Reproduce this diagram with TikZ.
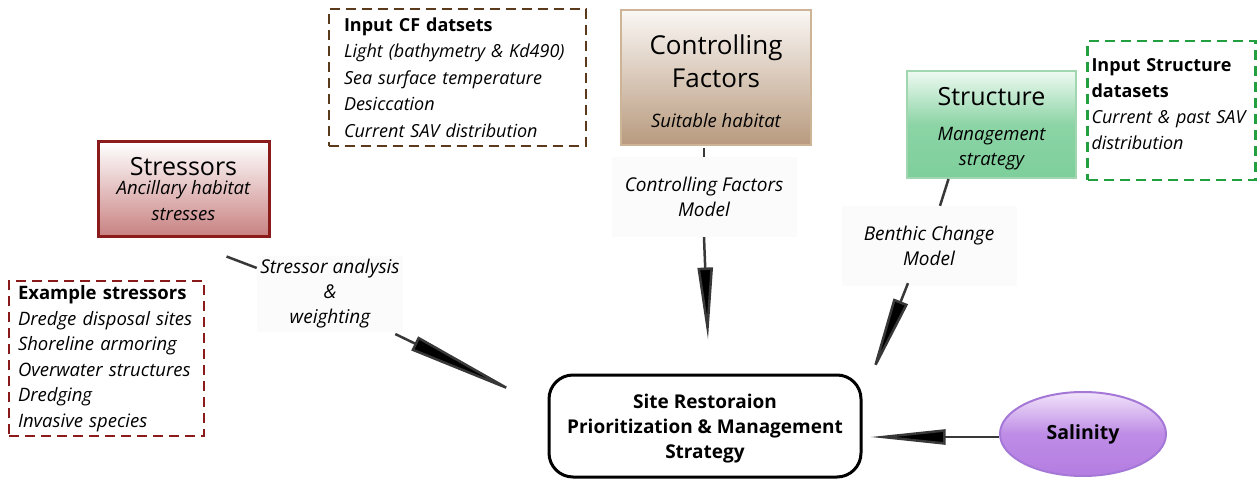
\documentclass[tikz,border=0pt]{standalone}
\usepackage{fontspec}
\setmainfont{Open Sans}
\usetikzlibrary{arrows.meta,calc,shapes.geometric}
\definecolor{sred}{HTML}{8B1A1A}
\definecolor{sbrown}{HTML}{5A3A1A}
\definecolor{sgreen}{HTML}{22A040}
\definecolor{conncol}{HTML}{383838}
\tikzset{
  dashbox/.style={draw, line width=2.5pt, dash pattern=on 10pt off 6pt, align=left, anchor=center, font=\fontsize{18.5}{25.5}\selectfont},
  modelbox/.style={align=center, anchor=center},
  lblbox/.style={fill=gray!3, align=center, font=\fontsize{19}{25}\selectfont\itshape},
  conn/.style={draw=conncol, line width=2.5pt},
  wedge/.style={draw=conncol, line width=2.5pt, -{Triangle[length=#1, width=15pt, fill=black]}},
}
\begin{document}
\begin{tikzpicture}[x=1pt,y=-1pt]
\useasboundingbox (0,0) rectangle (1259,481);
% Stressors
\node[modelbox, draw=sred, line width=3pt, top color=white, bottom color={rgb,255:red,200;green,128;blue,128}, minimum width=171pt, minimum height=95pt, font=\fontsize{18.5}{26}\selectfont\itshape] (stress) at (183.5,189.5)
  {{\fontsize{25}{26}\selectfont\upshape Stressors}\\[-7pt] Ancillary habitat\\ stresses};
% Example stressors
\node[dashbox, draw=sred, minimum width=195pt, minimum height=155pt, text width=177pt, inner xsep=9pt] (ex) at (106.5,358.5)
  {\textbf{Example stressors}\\ \textit{Dredge disposal sites}\\ \textit{Shoreline armoring}\\ \textit{Overwater structures}\\ \textit{Dredging}\\ \textit{Invasive species}};
% Input CF datasets
\node[dashbox, draw=sbrown, minimum width=257pt, minimum height=137pt, text width=227pt, inner xsep=15pt, font=\fontsize{18}{26.5}\selectfont] (cfin) at (457.5,77.5)
  {\textbf{Input CF datsets}\\ \textit{Light (bathymetry \& Kd490)}\\ \textit{Sea surface temperature}\\ \textit{Desiccation}\\ \textit{Current SAV distribution}};
% Controlling Factors
\node[modelbox, draw={rgb,255:red,205;green,180;blue,150}, line width=2pt, top color={rgb,255:red,250;green,247;blue,244}, bottom color={rgb,255:red,184;green,154;blue,126}, minimum width=190pt, minimum height=135pt, font=\fontsize{26}{33}\selectfont] (cf) at (716,77.5)
  {\rule{0pt}{28pt}Controlling\\ Factors\\[7pt] {\fontsize{18.5}{22}\selectfont\itshape Suitable habitat}};
% Structure
\node[modelbox, draw={rgb,255:red,160;green,215;blue,176}, line width=2pt, top color={rgb,255:red,238;green,250;blue,242}, bottom color={rgb,255:red,125;green,207;blue,155}, middle color={rgb,255:red,140;green,212;blue,165}, minimum width=169pt, minimum height=107pt, font=\fontsize{18.5}{25}\selectfont\itshape] (struct) at (991.5,124.5)
  {{\fontsize{25}{30}\selectfont\upshape\rule{0pt}{27pt}Structure}\\[10pt] Management\\ strategy};
% Input Structure datasets
\node[dashbox, draw=sgreen, minimum width=165pt, minimum height=139pt, text width=160pt, inner xsep=4pt, font=\fontsize{18}{25.5}\selectfont] (stin) at (1171.5,110.5)
  {\textbf{Input Structure}\\ \textbf{datasets}\\[1pt] \textit{Current \& past SAV}\\ \textit{distribution}\\[-12pt]\mbox{}};
% Site
\node[draw=black, line width=3pt, rounded corners=24pt, minimum width=312pt, minimum height=102pt, align=center, font=\fontsize{19}{25}\selectfont\bfseries] (site) at (705,426)
  {\rule{0pt}{20pt}Site Restoraion\\ Prioritization \& Management\\ Strategy};
% Salinity
\node[ellipse, draw={rgb,255:red,165;green,120;blue,215}, line width=2pt, top color={rgb,255:red,242;green,228;blue,250}, bottom color={rgb,255:red,180;green,125;blue,225}, middle color={rgb,255:red,190;green,140;blue,230}, minimum width=166pt, minimum height=84pt, inner sep=0pt, font=\fontsize{19.5}{22}\selectfont\bfseries] (sal) at (1083,434) {Salinity};
% Labels
\node[lblbox, minimum width=140pt, minimum height=75pt] (lbl1) at (330,294) {Stressor analysis\\ \&\\ weighting};
\node[lblbox, minimum width=185pt, minimum height=80pt] (lbl2) at (704,197) {Controlling Factors\\ Model};
\node[lblbox, minimum width=175pt, minimum height=80pt] (lbl3) at (929,246) {Benthic Change\\ Model};
% Connectors
\draw[conn] ($(stress.south east)+(-44,18)$) -- ($(lbl1.north west)+(0,12)$);
\draw[wedge=122pt] ($(lbl1.south east)+(-8,2)$) -- ($(site.north west)+(-23,23)$);
\draw[conn] ($(cf.south -| lbl2.north)+(0,2)$) -- (lbl2.north);
\draw[wedge=72pt] (lbl2.south) -- ($(site.north)+(3,-34)$);
\draw[conn] ($(struct.south)+(-43,0)$) -- ($(lbl3.north)+(11,0)$);
\draw[wedge=82pt] ($(lbl3.south)+(-21,-3)$) -- ($(site.north east)+(8,4)$);
\draw[wedge=75pt] ($(sal.west)+(0,3)$) -- ($(site.east)+(8,11)$);
\end{tikzpicture}
\end{document}
